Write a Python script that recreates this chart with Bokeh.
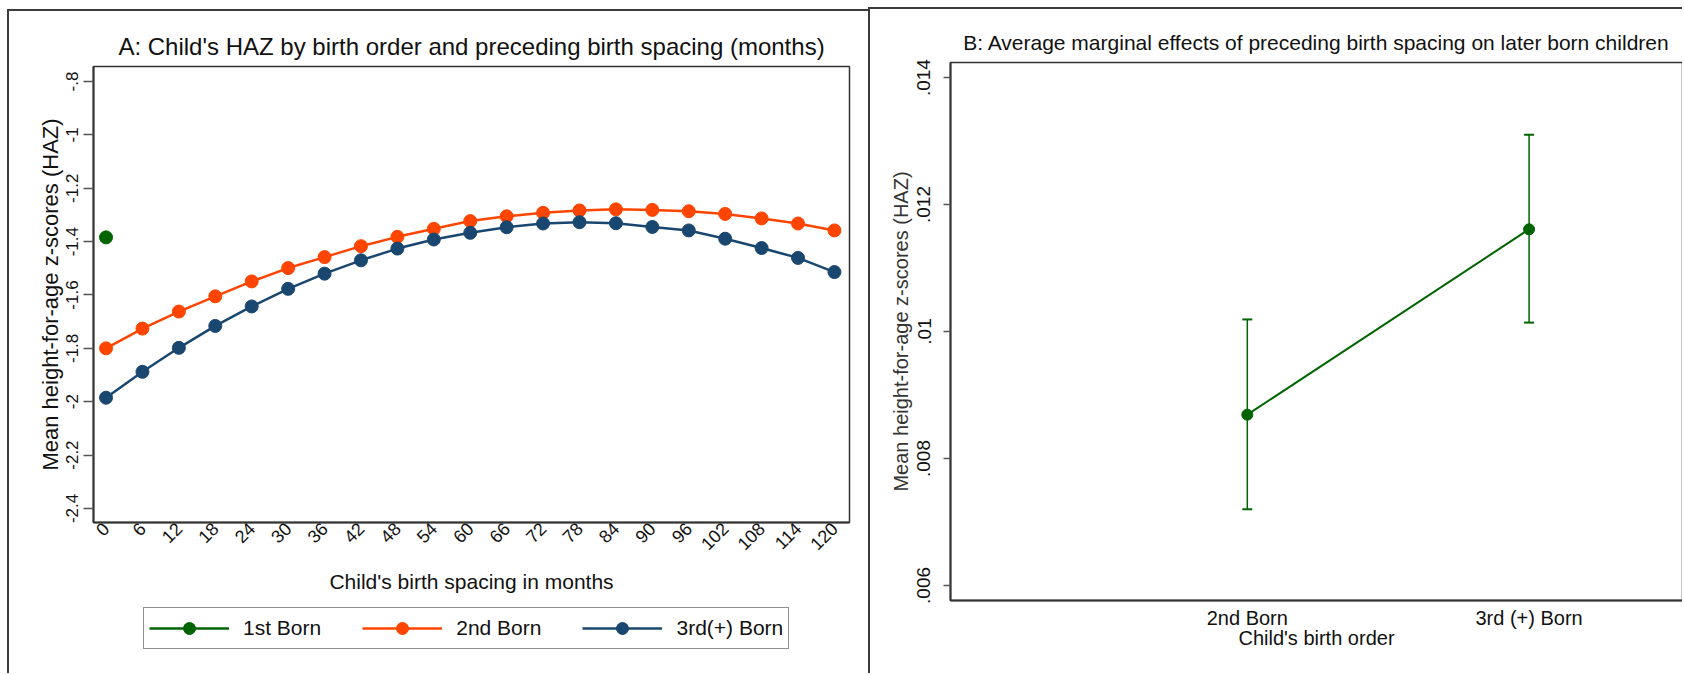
from bokeh.plotting import figure
from bokeh.models import (FixedTicker, Legend, LegendItem, Whisker, ColumnDataSource,
                          Range1d, TeeHead)
from bokeh.layouts import row, column
from bokeh.embed import file_html
from bokeh.resources import INLINE

# ---------------- data ----------------
spacing = [0, 6, 12, 18, 24, 30, 36, 42, 48, 54, 60, 66, 72, 78, 84, 90, 96, 102, 108, 114, 120]
first_x = [0]
first_born = [-1.384]
second_born = [-1.800, -1.726, -1.662, -1.605, -1.549, -1.499, -1.458, -1.417, -1.382, -1.352,
               -1.323, -1.305, -1.292, -1.283, -1.279, -1.281, -1.286, -1.296, -1.313, -1.332, -1.358]
third_born = [-1.985, -1.888, -1.798, -1.716, -1.643, -1.577, -1.520, -1.470, -1.426, -1.392,
              -1.367, -1.346, -1.332, -1.327, -1.331, -1.345, -1.358, -1.389, -1.424, -1.461, -1.514]
left_yticks = [-2.4, -2.2, -2.0, -1.8, -1.6, -1.4, -1.2, -1.0, -0.8]
left_ylabels = ["-2.4", "-2.2", "-2", "-1.8", "-1.6", "-1.4", "-1.2", "-1", "-.8"]
series_names = ["1st Born", "2nd Born", "3rd(+) Born"]

order_pos = [2, 3]
order_labels = ["2nd Born", "3rd (+) Born"]
effect = [0.00869, 0.01161]
effect_lo = [0.00720, 0.01014]
effect_hi = [0.01019, 0.01310]
right_yticks = [0.006, 0.008, 0.010, 0.012, 0.014]
right_ylabels = [".006", ".008", ".01", ".012", ".014"]

GREEN = "#006400"
ORANGE = "#FF4500"
NAVY = "#1A476F"
DARK = "#333333"
FONT = "Liberation Sans"
BORDER = "2px solid #3c3c3c"
series_colors = [GREEN, ORANGE, NAVY]
series_x = [first_x, spacing, spacing]
series_y = [first_born, second_born, third_born]

# ---------------- panel A ----------------
p1 = figure(frame_width=754, frame_height=454, output_backend="svg", toolbar_location=None,
            x_range=Range1d(-2.065, 122.48), y_range=Range1d(-2.4528, -0.7435),
            min_border_left=84, min_border_right=21, min_border_top=55, min_border_bottom=78,
            margin=(9, 0, 0, 7),
            styles={"border-top": BORDER, "border-left": BORDER})
p1.title.text = "A: Child's HAZ by birth order and preceding birth spacing (months)"
p1.title.align = "center"
p1.title.text_font = FONT
p1.title.text_font_size = "24px"
p1.title.text_font_style = "normal"
p1.title.text_color = "#111111"
p1.title.standoff = 14

p1.grid.visible = False
p1.outline_line_color = DARK
p1.outline_line_width = 1.5

for xs, ys, col in zip(series_x, series_y, series_colors):
    p1.line(xs, ys, color=col, line_width=2.5)
    p1.scatter(xs, ys, color=col, size=13)

xa = p1.xaxis[0]
xa.ticker = FixedTicker(ticks=spacing)
xa.major_label_orientation = 0.785398
xa.major_tick_out = 0
xa.major_tick_in = 0
xa.minor_tick_out = 0
xa.minor_tick_in = 0
xa.major_label_standoff = 3
xa.major_label_text_font = FONT
xa.major_label_text_font_size = "18px"
xa.major_label_text_color = "#111111"
xa.axis_label = "Child's birth spacing in months"
xa.axis_label_text_font = FONT
xa.axis_label_text_font_size = "21px"
xa.axis_label_text_font_style = "normal"
xa.axis_label_text_color = "#111111"
xa.axis_label_standoff = 11
xa.axis_line_color = DARK
xa.axis_line_width = 2

ya = p1.yaxis[0]
ya.ticker = FixedTicker(ticks=left_yticks)
ya.major_label_overrides = dict(zip(left_yticks, left_ylabels))
ya.major_label_orientation = "vertical"
ya.major_tick_out = 10
ya.major_tick_in = 0
ya.minor_tick_out = 0
ya.minor_tick_in = 0
ya.major_tick_line_color = "#555555"
ya.major_tick_line_width = 1.5
ya.major_label_standoff = 5
ya.major_label_text_font = FONT
ya.major_label_text_font_size = "17px"
ya.major_label_text_color = "#111111"
ya.axis_label = "Mean height-for-age z-scores (HAZ)"
ya.axis_label_text_font = FONT
ya.axis_label_text_font_size = "22px"
ya.axis_label_text_font_style = "normal"
ya.axis_label_text_color = "#111111"
ya.axis_label_standoff = 1
ya.axis_line_color = DARK
ya.axis_line_width = 2

# ---------------- legend strip under panel A ----------------
# (same series drawn again, but outside this strip's visible range: only the legend shows)
pleg = figure(frame_width=859, frame_height=75, output_backend="svg", toolbar_location=None,
              x_range=Range1d(1000, 1001), y_range=Range1d(1000, 1001),
              x_axis_location=None, y_axis_location=None,
              min_border_left=0, min_border_right=0, min_border_top=0, min_border_bottom=0,
              margin=(0, 0, 0, 7), outline_line_color=None,
              styles={"border-left": BORDER})
pleg.grid.visible = False
items = []
for name, xs, ys, col in zip(series_names, series_x, series_y, series_colors):
    lr = pleg.line(xs, ys, color=col, line_width=2.5)
    sr = pleg.scatter(xs, ys, color=col, size=13)
    items.append(LegendItem(label=name, renderers=[lr, sr]))
legend = Legend(items=items, orientation="horizontal", location=(134, 24))
legend.label_text_font = FONT
legend.label_text_font_size = "21px"
legend.label_text_color = "#111111"
legend.glyph_width = 80
legend.glyph_height = 30
legend.label_standoff = 14
legend.spacing = 41
legend.padding = 5
legend.margin = 0
legend.border_line_color = "#222222"
legend.border_line_width = 1.5
legend.background_fill_color = "white"
pleg.add_layout(legend, "center")

# ---------------- panel B ----------------
p2 = figure(frame_width=730, frame_height=536, output_backend="svg", toolbar_location=None,
            x_range=Range1d(0.9466, 3.5445), y_range=Range1d(0.005763, 0.014237),
            min_border_left=80, min_border_right=2, min_border_top=53, min_border_bottom=75,
            margin=(7, 0, 0, 0),
            styles={"border-top": BORDER, "border-left": BORDER})
p2.title.text = "B: Average marginal effects of preceding birth spacing on later born children"
p2.title.align = "center"
p2.title.text_font = FONT
p2.title.text_font_size = "21px"
p2.title.text_font_style = "normal"
p2.title.text_color = "#111111"
p2.title.standoff = 17

p2.grid.visible = False
p2.outline_line_color = DARK
p2.outline_line_width = 1.5

src = ColumnDataSource(dict(x=order_pos, y=effect, lo=effect_lo, hi=effect_hi))
p2.add_layout(Whisker(base="x", lower="lo", upper="hi", source=src,
                      line_color=GREEN, line_width=1.5,
                      lower_head=TeeHead(size=10, line_color=GREEN, line_width=2),
                      upper_head=TeeHead(size=10, line_color=GREEN, line_width=2)))
p2.line("x", "y", source=src, color=GREEN, line_width=2)
p2.scatter("x", "y", source=src, color=GREEN, size=11)

xb = p2.xaxis[0]
xb.ticker = FixedTicker(ticks=order_pos)
xb.major_label_overrides = dict(zip(order_pos, order_labels))
xb.major_tick_out = 0
xb.major_tick_in = 0
xb.minor_tick_out = 0
xb.minor_tick_in = 0
xb.major_label_standoff = 6
xb.major_label_text_font = FONT
xb.major_label_text_font_size = "20px"
xb.major_label_text_color = "#111111"
xb.axis_label = "Child's birth order"
xb.axis_label_text_font = FONT
xb.axis_label_text_font_size = "20px"
xb.axis_label_text_font_style = "normal"
xb.axis_label_text_color = "#111111"
xb.axis_label_standoff = -5
xb.axis_line_color = DARK
xb.axis_line_width = 2

yb = p2.yaxis[0]
yb.ticker = FixedTicker(ticks=right_yticks)
yb.major_label_overrides = dict(zip(right_yticks, right_ylabels))
yb.major_label_orientation = "vertical"
yb.major_tick_out = 7
yb.major_tick_in = 0
yb.minor_tick_out = 0
yb.minor_tick_in = 0
yb.major_tick_line_color = "#555555"
yb.major_tick_line_width = 1.5
yb.major_label_standoff = 13
yb.major_label_text_font = FONT
yb.major_label_text_font_size = "19px"
yb.major_label_text_color = "#111111"
yb.axis_label = "Mean height-for-age z-scores (HAZ)"
yb.axis_label_text_font = FONT
yb.axis_label_text_font_size = "20px"
yb.axis_label_text_font_style = "normal"
yb.axis_label_text_color = "#333333"
yb.axis_label_standoff = 3
yb.axis_line_color = DARK
yb.axis_line_width = 2

layout = row(column(p1, pleg), p2)
open("out.html", "w").write(file_html(layout, INLINE))
